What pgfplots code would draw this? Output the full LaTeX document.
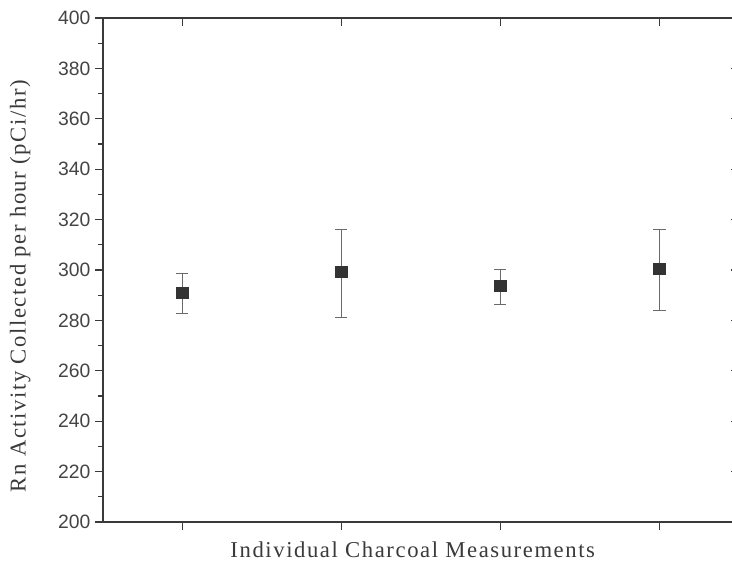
\documentclass[border=0pt]{standalone}
\usepackage{pgfplots}
\pgfplotsset{compat=1.18}
\usepackage{fontspec}
\setmainfont{Liberation Serif}
\newfontfamily\labfont[LetterSpace=7]{Liberation Serif}
\newfontfamily\ticksfont{Liberation Sans}
\definecolor{axc}{HTML}{3A3A3A}
\definecolor{txc}{HTML}{444444}
\definecolor{mk}{HTML}{333333}
\definecolor{eb}{HTML}{6A6A6A}
\begin{document}
\begin{tikzpicture}
\useasboundingbox (-77.25pt,-31.5pt) rectangle (471.75pt,391.5pt);
\begin{axis}[
  scale only axis,
  width=477pt, height=378pt,
  xmin=0.5, xmax=4.5,
  ymin=200, ymax=400,
  axis x line*=bottom, axis y line*=left,
  axis line style={axc, line width=1pt},
  tick align=outside,
  xtick={1,2,3,4}, xticklabels={},
  ytick={200,220,...,400},
  minor y tick num=1,
  major tick length=6pt, minor tick length=4pt,
  tick style={axc, line width=0.9pt},
  yticklabel style={font=\ticksfont\fontsize{14.5}{16}\selectfont, text=txc},
  /pgf/number format/assume math mode=true,
  xlabel={Individual Charcoal Measurements},
  ylabel={Rn Activity Collected per hour (pCi/hr)},
  xlabel style={at={(axis description cs:0.487,-0.0556)}, anchor=center, font=\labfont\fontsize{17}{20}\selectfont, text=axc},
  ylabel style={at={(axis description cs:-0.13,0.468)}, anchor=center, font=\labfont\fontsize{17}{20}\selectfont, text=axc},
  clip=false,
]
\addplot[only marks, mark=square*, mark size=4.3pt, mark options={fill=mk, draw=mk},
  error bars/.cd, y dir=both, y explicit,
  error bar style={eb, line width=0.6pt},
  error mark options={rotate=90, mark size=4.5pt, eb, line width=0.6pt}]
  table[x=x, y=y, y error plus=ep, y error minus=em] {
  x y ep em
  1 290.9 7.9 8.0
  2 299.3 17.0 18.0
  3 293.7 6.7 7.2
  4 300.4 15.9 16.3
};
\end{axis}
\begin{axis}[
  scale only axis,
  width=477pt, height=378pt,
  xmin=0.5, xmax=4.5,
  ymin=200, ymax=400,
  axis x line*=top, axis y line*=right,
  axis line style={axc, line width=1pt},
  tick align=inside,
  xtick={1,2,3,4}, xticklabels={},
  ytick={200,220,...,400}, yticklabels={},
  minor y tick num=1,
  major tick length=6pt, minor tick length=4pt,
  tick style={axc, line width=0.9pt},
]
\end{axis}
\end{tikzpicture}
\end{document}
